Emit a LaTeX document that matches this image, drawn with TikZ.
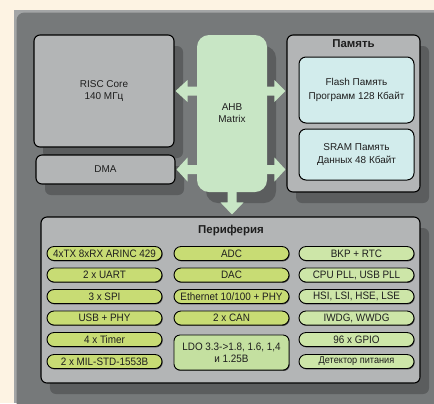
\documentclass[tikz,border=0pt]{standalone}
\usepackage{fontspec}
\setmainfont{Liberation Sans}
\newfontfamily\narrowsans[FakeStretch=0.92]{Liberation Sans}
\usetikzlibrary{shadows,calc}
\definecolor{cream}{HTML}{FDF3E3}
\definecolor{panel}{HTML}{76797A}
\definecolor{paneledge}{HTML}{A3A5A6}
\definecolor{shadowgray}{HTML}{5B5D5E}
\definecolor{boxgray}{HTML}{B3B5B6}
\definecolor{ahbgreen}{HTML}{C8E6C5}
\definecolor{memcyan}{HTML}{D2ECEC}
\definecolor{pillA}{HTML}{C8DC74}
\definecolor{pillB}{HTML}{CDE6A8}
\definecolor{ldogreen}{HTML}{C4E0A0}
\definecolor{txt}{HTML}{1E1E1E}
\begin{document}
\begin{tikzpicture}[x=1bp,y=-1bp,
  bigshadow/.style={drop shadow={shadow xshift=9bp, shadow yshift=-11bp, fill=shadowgray, opacity=1}},
  box/.style={draw=black, line width=1.1bp, fill=boxgray, rounded corners=6bp, inner sep=0pt, align=center, text=txt, font=\fontsize{10}{12.5}\selectfont, bigshadow},
  inbox/.style={draw=black, line width=1bp, fill=memcyan, rounded corners=7bp, inner sep=0pt, align=center, text=txt, font=\fontsize{10}{13.5}\selectfont, minimum width=115bp},
  title/.style={font=\fontsize{11.5}{13}\selectfont\bfseries, text=txt, inner sep=0pt},
  pill/.style={draw=black, line width=0.9bp, rounded corners=7bp, minimum width=115bp, minimum height=14bp, inner sep=0pt, text=txt, font=\narrowsans\fontsize{10.8}{12}\selectfont,
    drop shadow={shadow xshift=0.7bp, shadow yshift=-0.9bp, fill=black!75, opacity=1}},
  pa/.style={pill, fill=pillA},
  pb/.style={pill, fill=pillB},
  arr/.style={fill=ahbgreen}
]
\useasboundingbox (0,0) rectangle (434,403);
\fill[cream] (0,0) rectangle (434,403);
\fill[paneledge] (14,10) rectangle (434,403);
\fill[panel, rounded corners=8bp] (16.5,12.5) rectangle (444,413);

% main blocks
\node[box, minimum width=140bp, minimum height=112bp] (risc) at (104,91) {RISC Core\\140 МГц};
\node[box, minimum width=139bp, minimum height=29bp] (dma) at (105.5,169.5) {DMA};
\node[fill=ahbgreen, rounded corners=12bp, minimum width=70bp, minimum height=157bp, inner sep=0pt, align=center, text=txt, font=\fontsize{10}{12}\selectfont, bigshadow] (ahb) at (232,113.5) {AHB\\Matrix};
\node[box, minimum width=133bp, minimum height=157bp] (mem) at (353.5,113.5) {};
\node[title] (memt) at (353.5,44) {Память};
\node[inbox, minimum height=66bp] (flash) at (356.5,90) {Flash Память\\Программ 128 Кбайт};
\node[inbox, minimum height=51bp] (sram) at (356.5,154.5) {SRAM Память\\Данных 48 Кбайт};
\node[box, minimum width=379bp, minimum height=166bp] (per) at (230.5,300) {};
\node[title] (pert) at (231,231) {Периферия};

% block arrows from the AHB matrix
\fill[arr] ($(ahb.west |- risc.east)+(1,-4.5)$) -- ($(risc.east)+(13,-4.5)$) -- ($(risc.east)+(13,-11)$) -- ($(risc.east)+(1,0)$) -- ($(risc.east)+(13,11)$) -- ($(risc.east)+(13,4.5)$) -- ($(ahb.west |- risc.east)+(1,4.5)$) -- cycle;
\fill[arr] ($(ahb.west |- dma.east)+(1,-4.5)$) -- ($(dma.east)+(12,-4.5)$) -- ($(dma.east)+(12,-12)$) -- ($(dma.east)+(1,0)$) -- ($(dma.east)+(12,12)$) -- ($(dma.east)+(12,4.5)$) -- ($(ahb.west |- dma.east)+(1,4.5)$) -- cycle;
\fill[arr] ($(ahb.east |- risc.east)+(-1,-4.5)$) -- ($(mem.west |- risc.east)+(-12,-4.5)$) -- ($(mem.west |- risc.east)+(-12,-11)$) -- ($(mem.west |- risc.east)+(-1,0)$) -- ($(mem.west |- risc.east)+(-12,11)$) -- ($(mem.west |- risc.east)+(-12,4.5)$) -- ($(ahb.east |- risc.east)+(-1,4.5)$) -- cycle;
\fill[arr] ($(ahb.east |- dma.east)+(-1,-4.5)$) -- ($(mem.west |- dma.east)+(-12,-4.5)$) -- ($(mem.west |- dma.east)+(-12,-12)$) -- ($(mem.west |- dma.east)+(-1,0)$) -- ($(mem.west |- dma.east)+(-12,12)$) -- ($(mem.west |- dma.east)+(-12,4.5)$) -- ($(ahb.east |- dma.east)+(-1,4.5)$) -- cycle;
\fill[arr] ($(ahb.south)+(-4.5,-1)$) -- ($(ahb.south |- per.north)+(-4.5,-14)$) -- ($(ahb.south |- per.north)+(-11.5,-14)$) -- ($(ahb.south |- per.north)+(0,-2)$) -- ($(ahb.south |- per.north)+(11.5,-14)$) -- ($(ahb.south |- per.north)+(4.5,-14)$) -- ($(ahb.south)+(4.5,-1)$) -- cycle;

% peripherals, column 1
\node[pa] (p11) at (104.5,253.5) {4xTX 8xRX ARINC 429};
\node[pa] (p12) at (104.5,275) {2 x UART};
\node[pa] (p13) at (104.5,296.5) {3 x SPI};
\node[pa] (p14) at (104.5,318) {USB + PHY};
\node[pa] (p15) at (104.5,339.5) {4 x Timer};
\node[pa] (p16) at (104.5,361.5) {2 x MIL-STD-1553B};
% column 2
\node[pa] (p21) at (231.5,253.5) {ADC};
\node[pa] (p22) at (231.5,275) {DAC};
\node[pa] (p23) at (231.5,296.5) {Ethernet 10/100 + PHY};
\node[pa] (p24) at (231.5,318) {2 x CAN};
\node[draw=black, line width=0.9bp, fill=ldogreen, rounded corners=6bp, minimum width=115bp, minimum height=35bp, inner sep=0pt, align=center, text=txt, font=\narrowsans\fontsize{10.8}{12}\selectfont,
  drop shadow={shadow xshift=0.7bp, shadow yshift=-0.9bp, fill=black!75, opacity=1}] (ldo) at (231.5,352.5) {LDO 3.3->1.8, 1.6, 1,4\\и 1.25В};
% column 3
\node[pb] (p31) at (356.5,253.5) {BKP + RTC};
\node[pb] (p32) at (356.5,275) {CPU PLL, USB PLL};
\node[pb] (p33) at (356.5,296.5) {HSI, LSI, HSE, LSE};
\node[pb] (p34) at (356.5,318) {IWDG, WWDG};
\node[pb] (p35) at (356.5,339.5) {96 x GPIO};
\node[pb, font=\narrowsans\fontsize{10}{11}\selectfont] (p36) at (356.5,361.5) {Детектор питания};
\end{tikzpicture}
\end{document}
